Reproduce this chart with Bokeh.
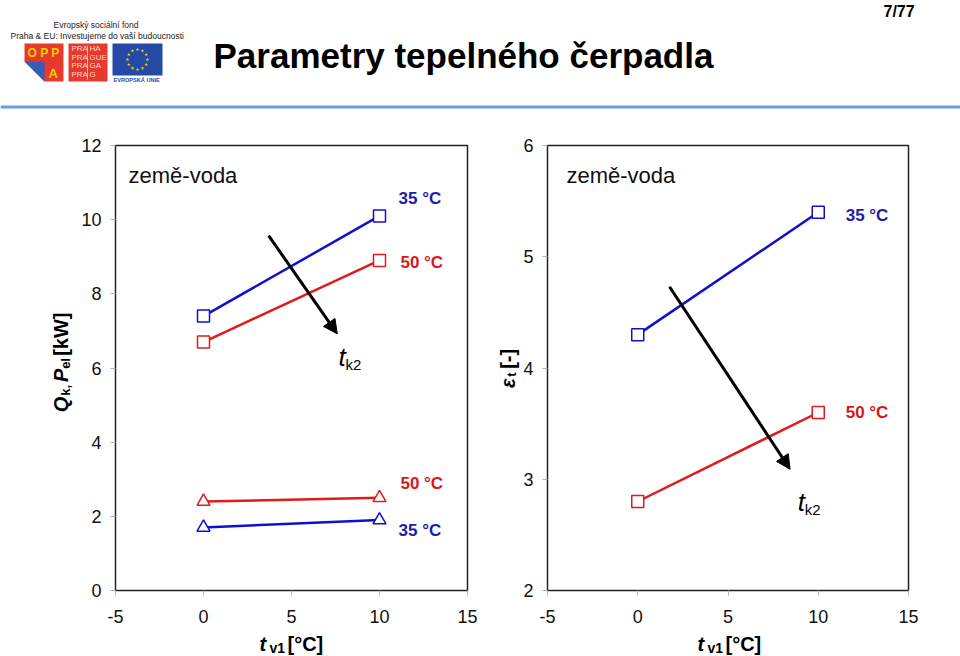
import numpy as np
from bokeh.plotting import figure
from bokeh.models import Range1d, FixedTicker, Label, Arrow, NormalHead
from bokeh.layouts import column, row
from bokeh.core.properties import value
from bokeh.embed import file_html
from bokeh.resources import INLINE

SANS = "Liberation Sans"

# ---------------- data ----------------
t_v1 = [0, 10]                 # evaporator inlet temperature [°C]
qk_35 = [7.4, 10.1]            # heating output, t_k2 = 35 °C [kW]
qk_50 = [6.7, 8.9]             # heating output, t_k2 = 50 °C [kW]
pel_50 = [2.4, 2.5]            # electric input, t_k2 = 50 °C [kW]
pel_35 = [1.7, 1.9]            # electric input, t_k2 = 35 °C [kW]
eps_35 = [4.3, 5.4]            # COP, t_k2 = 35 °C
eps_50 = [2.8, 3.6]            # COP, t_k2 = 50 °C
x_ticks = [-5, 0, 5, 10, 15]
y_ticks_power = [0, 2, 4, 6, 8, 10, 12]
y_ticks_cop = [2, 3, 4, 5, 6]
arrow_power = [3.7, 9.57, 7.6, 6.92]   # x0, y0, x1, y1
arrow_cop = [1.76, 4.73, 8.44, 3.09]

BLUE = "#1010cc"
RED = "#e01b1b"
BLUE_T = "#1c1ca8"
RED_T = "#d81818"

ROW_H = 512        # height of the plot row
TOP = 118          # page y where the plot row starts


def blank(w, h, xr, yr):
    f = figure(width=w, height=h, x_range=Range1d(*xr), y_range=Range1d(*yr),
               output_backend="svg", toolbar_location=None, min_border=0)
    f.axis.visible = False
    f.grid.visible = False
    f.outline_line_color = None
    return f


def txt(f, x, y, s, size_px, style="normal", color="black", angle=0.0):
    """x, y = start of the text on its baseline (y axis of f points down)."""
    shift = 0.35 * size_px
    if angle:
        x = x - shift
    else:
        y = y - shift
    f.text(x=[x], y=[y], text=[s], angle=angle, text_font=value(SANS),
           text_font_size=f"{size_px}px", text_font_style=style, text_color=color,
           text_baseline="middle")


# ---------------- header ----------------
hdr = blank(960, TOP, (0, 960), (TOP, 0))
hdr.line([0, 960], [106.5, 106.5], line_color="#6d9ce4", line_width=3)
txt(hdr, 213, 67, "Parametry tepelného čerpadla", 35, "bold")
txt(hdr, 883, 17, "7/77", 16, "bold")
txt(hdr, 53, 27, "Evropský sociální fond", 8.5, color="#222")
txt(hdr, 10, 38, "Praha & EU: Investujeme do vaší budoucnosti", 8.5, color="#222")
# OPPA logo
hdr.patch([24, 63, 63, 44, 24], [43, 43, 81, 81, 61], fill_color="#e63a2e", line_color=None)
hdr.patch([24, 44, 44], [61, 81, 61], fill_color="#3a5bb5", line_color=None)
txt(hdr, 27, 57, "O P P", 12, "bold", "#f5d200")
txt(hdr, 48, 78, "A", 13, "bold", "#f5d200")
# PRAHA logo
hdr.quad(left=[68], right=[107], top=[43], bottom=[81], fill_color="#e63a2e", line_color=None)
hdr.line([87, 87], [45, 79], line_color="#f3b7a8", line_width=1)
for yy, right_part in zip([51, 60, 68, 77], ["HA", "GUE", "GA", "G"]):
    txt(hdr, 71, yy, "PRA", 8, color="#fbd5c8")
    txt(hdr, 89, yy, right_part, 8, color="#fbd5c8")
# EU flag
hdr.quad(left=[112], right=[162], top=[43], bottom=[75], fill_color="#244aa5", line_color=None)
ang = np.arange(12) * np.pi / 6
hdr.scatter(137 + 10 * np.cos(ang), 59 + 10 * np.sin(ang), marker="star", size=4,
            fill_color="#f5d200", line_color=None)
txt(hdr, 113, 81, "EVROPSKÁ UNIE", 5.6, "bold", "#244aa5")


# ---------------- plots ----------------
def base_plot(width, bl, br, y_rng, y_ticks):
    p = figure(width=width, height=ROW_H, x_range=Range1d(-5, 15), y_range=Range1d(*y_rng),
               output_backend="svg", toolbar_location=None,
               min_border_left=bl, min_border_right=br, min_border_top=145 - TOP,
               min_border_bottom=ROW_H - (590 - TOP))
    p.xgrid.visible = False
    p.ygrid.visible = False
    p.outline_line_color = "#222"
    p.outline_line_width = 1.5
    p.xaxis.ticker = FixedTicker(ticks=x_ticks)
    p.yaxis.ticker = FixedTicker(ticks=y_ticks)
    p.xaxis.major_label_overrides = {-5: "-5"}
    for ax in p.axis:
        ax.axis_line_color = None
        ax.major_tick_line_color = "#b0b0b0"
        ax.major_tick_out = 5
        ax.major_tick_in = 0
        ax.minor_tick_line_color = None
        ax.major_label_text_font = SANS
        ax.major_label_text_font_size = "18px"
        ax.major_label_text_color = "#111"
    p.xaxis.major_label_standoff = 14
    p.yaxis.major_label_standoff = 9
    return p


def temp_label(p, x, y, s, color):
    p.add_layout(Label(x=x, y=y, text=s, text_font=SANS, text_font_size="17px",
                       text_font_style="bold", text_color=color, text_baseline="middle"))


def tk2_label(p, x, y):
    p.add_layout(Label(x=x, y=y, text="t", text_font=SANS, text_font_size="26px",
                       text_font_style="italic", text_color="black", text_baseline="middle"))
    p.add_layout(Label(x=x, y=y, text="k2", x_offset=7, y_offset=-7.85, text_font=SANS,
                       text_font_size="15px", text_color="black", text_baseline="middle"))


def series(p, ys, color, marker, size):
    p.line(t_v1, ys, line_color=color, line_width=2.5)
    p.scatter(t_v1, ys, marker=marker, size=size, line_color=color, fill_color="white", line_width=1.5)


def arrow(p, a):
    p.add_layout(Arrow(end=NormalHead(size=14, fill_color="black", line_color="black"),
                       x_start=a[0], y_start=a[1], x_end=a[2], y_end=a[3],
                       line_width=3, line_color="black"))


def region_label(p, x, y):
    p.add_layout(Label(x=x, y=y, text="země-voda", text_font=SANS, text_font_size="22px",
                       text_color="#111", text_baseline="middle"))


# left: powers
left = base_plot(420, 41, 27, (0, 12), y_ticks_power)
series(left, qk_35, BLUE, "square", 12)
series(left, qk_50, RED, "square", 12)
series(left, pel_50, RED, "triangle", 13)
series(left, pel_35, BLUE, "triangle", 13)
arrow(left, arrow_power)
region_label(left, -4.26, 11.18)
temp_label(left, 11.08, 10.57, "35 °C", BLUE_T)
temp_label(left, 11.19, 8.84, "50 °C", RED_T)
temp_label(left, 11.19, 2.88, "50 °C", RED_T)
temp_label(left, 11.08, 1.62, "35 °C", BLUE_T)
tk2_label(left, 7.67, 6.31)

# right: COP
right = base_plot(440, 26, 52, (2, 6), y_ticks_cop)
series(right, eps_35, BLUE, "square", 12)
series(right, eps_50, RED, "square", 12)
arrow(right, arrow_cop)
region_label(right, -3.95, 5.73)
temp_label(right, 11.52, 5.37, "35 °C", BLUE_T)
temp_label(right, 11.52, 3.60, "50 °C", RED_T)
tk2_label(right, 8.87, 2.80)

# ---------------- axis titles (outside the plot frames) ----------------
BOTTOM = TOP + ROW_H
up = np.pi / 2
ylab_l = blank(74, ROW_H, (0, 74), (BOTTOM, TOP))
txt(ylab_l, 67, 425, "Q", 20, "bold italic", angle=up)
txt(ylab_l, 70, 406, "k,", 13, "bold", angle=up)
txt(ylab_l, 67, 390, "P", 20, "bold italic", angle=up)
txt(ylab_l, 70, 375, "el", 13, "bold", angle=up)
txt(ylab_l, 67, 360, "[kW]", 20, "bold", angle=up)

ylab_r = blank(26, ROW_H, (494, 520), (BOTTOM, TOP))
txt(ylab_r, 514, 397, "ε", 20, "bold italic", angle=up)
txt(ylab_r, 516, 384, "t", 13, "bold", angle=up)
txt(ylab_r, 514, 375, "[-]", 20, "bold", angle=up)

xlab = blank(960, 656 - BOTTOM, (0, 960), (656, BOTTOM))
for x0 in (259, 697):
    txt(xlab, x0, 650, "t", 20, "bold italic")
    txt(xlab, x0 + 10, 652, "v1", 14, "bold")
    txt(xlab, x0 + 28, 650, "[°C]", 20, "bold")

layout = column(hdr, row(ylab_l, left, ylab_r, right), xlab)
open("out.html", "w").write(file_html(layout, INLINE))
